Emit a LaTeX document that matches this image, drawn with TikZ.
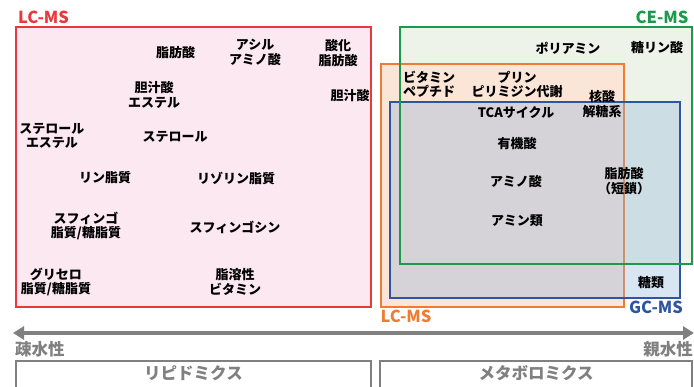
\documentclass[tikz,border=0pt]{standalone}
\usepackage{fontspec}
\setmainfont{Noto Sans CJK JP}
\usetikzlibrary{arrows.meta}
\definecolor{lcred}{RGB}{232,56,61}
\definecolor{pinkfill}{RGB}{252,232,240}
\definecolor{cegreen}{RGB}{26,154,74}
\definecolor{greenfill}{RGB}{238,243,233}
\definecolor{lcorange}{RGB}{240,124,52}
\definecolor{orangefill}{RGB}{251,229,214}
\definecolor{gcblue}{RGB}{47,85,160}
\definecolor{bluefill}{RGB}{143,180,217}
\definecolor{axisgray}{RGB}{128,128,128}
\begin{document}
\begin{tikzpicture}[x=1pt,y=-1pt,
  lbl/.style={font=\bfseries\fontsize{13}{14.5}\selectfont, align=center, inner sep=0pt, text=black},
  mslbl/.style={font=\bfseries\fontsize{16.5}{18}\selectfont, inner sep=0pt},
  graylbl/.style={font=\bfseries\fontsize{16.5}{18}\selectfont, inner sep=0pt, text=axisgray},
  boxline/.style={line width=2.6pt}
]
\useasboundingbox (0,0) rectangle (694,387);
\clip (0,0) rectangle (694,387);

% LC-MS (red)
\draw[boxline, draw=lcred, fill=pinkfill] (16,27) rectangle (371,307);
% CE-MS fill
\fill[greenfill] (400,27) rectangle (692,264);
% LC-MS (orange)
\draw[boxline, draw=lcorange, fill=orangefill] (381,64) rectangle (624,307);
% GC-MS (blue) fill
\fill[bluefill, fill opacity=0.35] (390,102) rectangle (680,298);
\draw[boxline, draw=gcblue] (390,102) rectangle (680,298);
% CE-MS border
\draw[boxline, draw=cegreen] (400,27) rectangle (692,264);

% method labels
\node[mslbl, text=lcred] (lcms1) at (43.5,17.5) {LC-MS};
\node[mslbl, text=cegreen] (cems) at (662,17.5) {CE-MS};
\node[mslbl, text=lcorange] (lcms2) at (406,316) {LC-MS};
\node[mslbl, text=gcblue] (gcms) at (656,307) {GC-MS};

% lipid side
\node[lbl] (fa) at (175.5,53) {脂肪酸};
\node[lbl] (acyl) at (255,52.5) {アシル\\アミノ酸};
\node[lbl] (oxfa) at (338,53) {酸化\\脂肪酸};
\node[lbl] (bae) at (154,95) {胆汁酸\\エステル};
\node[lbl] (ba) at (350,96) {胆汁酸};
\node[lbl] (ste) at (52,136) {ステロール\\エステル};
\node[lbl] (st) at (175,137) {ステロール};
\node[lbl] (pl) at (105,178) {リン脂質};
\node[lbl] (lpl) at (236,178) {リゾリン脂質};
\node[lbl] (sph) at (86,226) {スフィンゴ\\脂質/糖脂質};
\node[lbl] (sphs) at (235,227) {スフィンゴシン};
\node[lbl] (gly) at (56,282) {グリセロ\\脂質/糖脂質};
\node[lbl] (vit) at (235,282) {脂溶性\\ビタミン};

% metabolite side
\node[lbl] (pa) at (568,48) {ポリアミン};
\node[lbl] (sp) at (657,48) {糖リン酸};
\node[lbl] (vp) at (429,84.5) {ビタミン\\ペプチド};
\node[lbl] (pur) at (517,84.5) {プリン\\ピリミジン代謝};
\node[lbl] (nuc) at (602,104) {核酸\\解糖系};
\node[lbl] (tca) at (516,113) {TCAサイクル};
\node[lbl] (oa) at (517,144) {有機酸};
\node[lbl] (aa) at (516,182) {アミノ酸};
\node[lbl] (scfa) at (624,181) {脂肪酸\\（短鎖）};
\node[lbl] (am) at (517,221) {アミン類};
\node[lbl] (sug) at (651,283) {糖類};

% axis
\coordinate (aL) at (13,333);
\coordinate (aR) at (694,333);
\draw[line width=4pt, axisgray, {Triangle[length=11pt,width=13pt]}-{Triangle[length=11pt,width=13pt]}] (aL) -- (aR);
\node[graylbl, anchor=west] (hydrophobic) at (15,349) {疎水性};
\node[graylbl, anchor=east] (hydrophilic) at (693,349) {親水性};

% bottom boxes
\draw[line width=2.6pt, axisgray] (16,361) rectangle (371,395);
\draw[line width=2.6pt, axisgray] (380,361) rectangle (692,395);
\node[graylbl] (lipid) at (193.5,373) {リピドミクス};
\node[graylbl] (metab) at (536,373) {メタボロミクス};
\end{tikzpicture}
\end{document}
